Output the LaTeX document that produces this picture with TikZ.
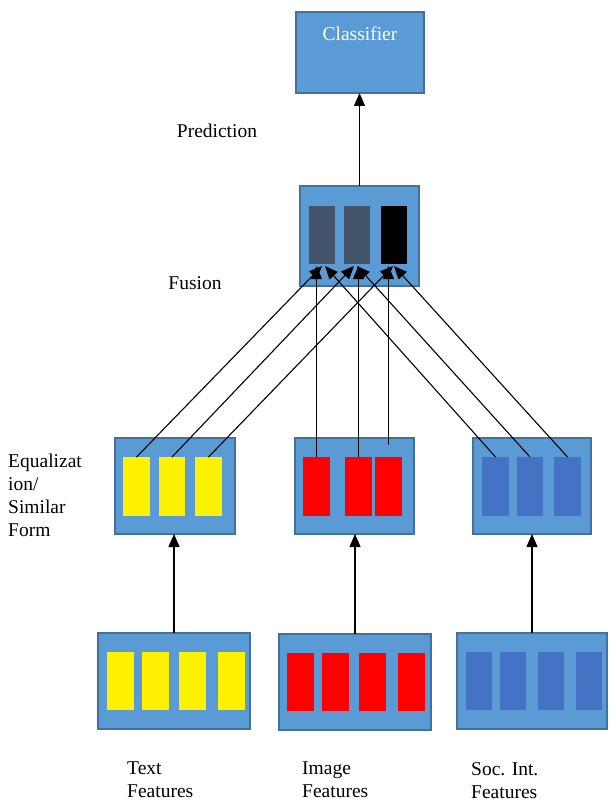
\documentclass[tikz,border=0pt]{standalone}
\usepackage{fontspec}
\setmainfont{Liberation Serif}
\usetikzlibrary{arrows.meta,calc}
\definecolor{boxfill}{HTML}{5B9BD5}
\definecolor{boxline}{HTML}{41719C}
\definecolor{barblue}{HTML}{4472C4}
\definecolor{bargray}{HTML}{44546A}
\begin{document}
\begin{tikzpicture}[x=1pt,y=-1pt,
  panel/.style={draw=boxline,fill=boxfill,line width=2pt,inner sep=0pt,outer sep=0pt},
  bar/.style={inner sep=0pt,outer sep=0pt,minimum height=59pt,minimum width=27pt},
  ybar/.style={bar,fill=yellow},
  rbar/.style={bar,fill=red},
  bbar/.style={bar,fill=barblue},
  conn/.style={line width=1.1pt,-{Triangle[width=11pt,length=13pt]}},
  lbl/.style={inner sep=0pt,font=\fontsize{19.5}{23}\selectfont,align=left}]
\useasboundingbox (0,0) rectangle (608,802);
% classifier
\node[panel,minimum width=128pt,minimum height=81pt] (clf) at (360,52.5) {};
\node[lbl,text=white] (clft) at (360,34) {Classifier};
% fusion
\node[panel,minimum width=119pt,minimum height=100pt] (fus) at (359.5,236) {};
\node[bar,fill=bargray,minimum width=26pt,minimum height=58pt] (f1) at (322,235) {};
\node[bar,fill=bargray,minimum width=26pt,minimum height=58pt] (f2) at (357,235) {};
\node[bar,fill=black,minimum width=26pt,minimum height=58pt] (f3) at (394,235) {};
% equalization boxes
\node[panel,minimum width=120pt,minimum height=96pt] (eq1) at (175,486) {};
\node[panel,minimum width=119pt,minimum height=96pt] (eq2) at (354.5,486) {};
\node[panel,minimum width=118pt,minimum height=96pt] (eq3) at (532,486) {};
\node[ybar] (y1) at (136.5,486.5) {};
\node[ybar,minimum width=26pt] (y2) at (172,486.5) {};
\node[ybar] (y3) at (208.5,486.5) {};
\node[rbar] (r1) at (316.5,486.5) {};
\node[rbar] (r2) at (358.5,486.5) {};
\node[rbar] (r3) at (388.5,486.5) {};
\node[bbar] (b1) at (495.5,486.5) {};
\node[bbar,minimum width=26pt] (b2) at (530,486.5) {};
\node[bbar] (b3) at (567.5,486.5) {};
% bottom feature boxes
\node[panel,minimum width=152pt,minimum height=96pt] (bot1) at (174,681) {};
\node[panel,minimum width=152pt,minimum height=96pt] (bot2) at (355,682) {};
\node[panel,minimum width=150pt,minimum height=96pt] (bot3) at (532,681) {};
\foreach \x/\n in {120.5/1,155.5/2,192.5/3,231.5/4}{\node[ybar,minimum height=58pt] (ty\n) at (\x,681) {};}
\foreach \x/\n in {300.5/1,335/2,372.5/3,411.5/4}{\node[rbar,minimum height=58pt] (ir\n) at (\x,682) {};}
\foreach \x/\n in {479/1,513/2,551/3,589/4}{\node[bbar,minimum height=58pt,minimum width=26pt] (sb\n) at (\x,681) {};}
% connectors bottom -> equalization
\draw[conn] (bot1.north) -- (bot1.north |- eq1.south);
\draw[conn] (bot2.north) -- (bot2.north |- eq2.south);
\draw[conn] (bot3.north) -- (bot3.north |- eq3.south);
% equalization -> fusion
\coordinate (r3s) at ($(r3.north)+(0,-12)$);
\draw[conn] (y1.north) -- ($(f1.south)+(0,2)$);
\draw[conn] (y2.north) -- ($(f2.south)+(-3,2)$);
\draw[conn] (y3.north) -- ($(f3.south)+(-1,2)$);
\draw[conn] (r1.north) -- ($(r1.north |- f1.south)+(0,2)$);
\draw[conn] (r2.north) -- ($(r2.north |- f2.south)+(0,2)$);
\draw[conn] (r3s) -- ($(r3s |- f3.south)+(0,2)$);
\draw[conn] (b1.north) -- ($(f1.south)+(3,2)$);
\draw[conn] (b2.north) -- ($(f2.south)+(0,2)$);
\draw[conn] (b3.north) -- ($(f3.south)+(0,2)$);
% fusion -> classifier
\draw[conn] (fus.north) -- (fus.north |- clf.south);
% labels
\node[lbl] (pred) at (217,131) {Prediction};
\node[lbl] (fusl) at (195,283) {Fusion};
\node[lbl,anchor=north west] (eql) at (8,454) {Equalizat\\ion/\\Similar\\Form};
\node[lbl,anchor=north west] (tf) at (127,762) {Text\\Features};
\node[lbl,anchor=north west] (imf) at (302,762) {Image\\Features};
\node[lbl,anchor=north west] (sif) at (471,762) {Soc. Int.\\Features};
\end{tikzpicture}
\end{document}
